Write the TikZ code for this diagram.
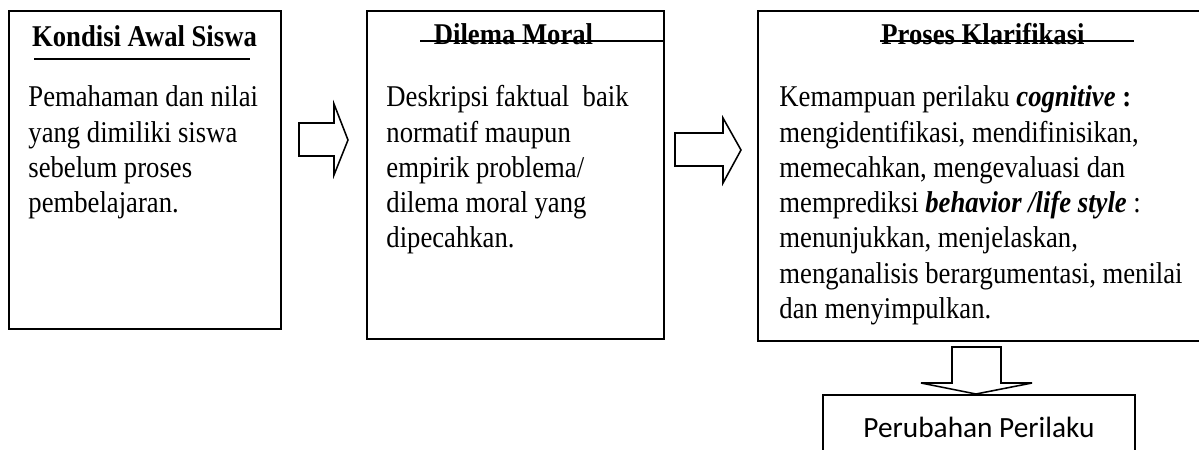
\documentclass[tikz,border=0pt]{standalone}
\usepackage{graphicx}
\usepackage{fontspec}
\setmainfont{Liberation Serif}
\newfontfamily\calibri{Carlito}
\newcommand{\regang}[1]{\scalebox{1}[1.13]{#1}}
\newcommand{\baris}[1]{\regang{\parbox[t]{220pt}{\raggedright #1}}}

\tikzset{
	kotak/.style={draw, line width=0.9pt, inner sep=0pt},
	judul/.style={font=\fontsize{12}{14}\selectfont\bfseries, anchor=base, inner sep=0pt},
	isi/.style={font=\fontsize{12}{14.02}\selectfont, anchor=base west, inner sep=0pt},
	panah/.style={draw, line width=0.7pt, line join=miter},
	garis/.style={line width=0.9pt}
}

\begin{document}
\begin{tikzpicture}[x=0.45pt, y=-0.45pt]
	\useasboundingbox (0,0) rectangle (1199,450);
	\clip (0,0) rectangle (1199,450);

	% kotak-kotak
	\node [kotak, anchor=north west, minimum width=122.4pt, minimum height=143.1pt] (kondisi) at (8,10) {};
	\node [kotak, anchor=north west, minimum width=133.65pt, minimum height=147.6pt] (dilema) at (366,10) {};
	\node [kotak, anchor=north west, minimum width=226.35pt, minimum height=148.5pt] (klarifikasi) at (757,10) {};
	\node [kotak, minimum width=140.4pt, minimum height=28.8pt, font=\calibri\fontsize{13.2}{16}\selectfont] (perubahan) at (979,427) {Perubahan Perilaku};

	% judul
	\node [judul] (kondisi-j) at (144.5,47) {\regang{Kondisi Awal Siswa}};
	\node [judul] (dilema-j) at (513.5,45) {\regang{Dilema Moral}};
	\node [judul] (klarifikasi-j) at (983,45) {\regang{Proses Klarifikasi}};
	\draw [garis] (34,59) -- (250,59);
	\draw [garis] (420,41) -- (663,41);
	\draw [garis] (880,41) -- (1134,41);

	% isi
	\node [isi] (kondisi-i) at (28,107) {\baris{Pemahaman dan nilai\\ yang dimiliki siswa\\ sebelum proses\\ pembelajaran.}};
	\node [isi] (dilema-i) at (386,107) {\baris{Deskripsi faktual\ \ baik\\ normatif maupun\\ empirik problema/\\ dilema moral yang\\ dipecahkan.}};
	\node [isi] (klarifikasi-i) at (779,107) {\baris{Kemampuan perilaku \textbf{\textit{cognitive}} \textbf{:}\\ mengidentifikasi, mendifinisikan,\\ memecahkan, mengevaluasi dan\\ memprediksi \textbf{\textit{behavior /life style}} :\\ menunjukkan, menjelaskan,\\ menganalisis berargumentasi, menilai\\ dan menyimpulkan.}};

	% panah
	\draw [panah] (299,123) -- (334,123) -- (334,104) -- (348,140) -- (334,175) -- (334,156) -- (299,156) -- cycle;
	\draw [panah] (675,133) -- (723,133) -- (723,118) -- (741,150) -- (723,183) -- (723,166) -- (675,166) -- cycle;
	\draw [panah] (952,347) -- (1001,347) -- (1001,383) -- (1032,383) -- (976,394) -- (921,383) -- (952,383) -- cycle;
\end{tikzpicture}
\end{document}
